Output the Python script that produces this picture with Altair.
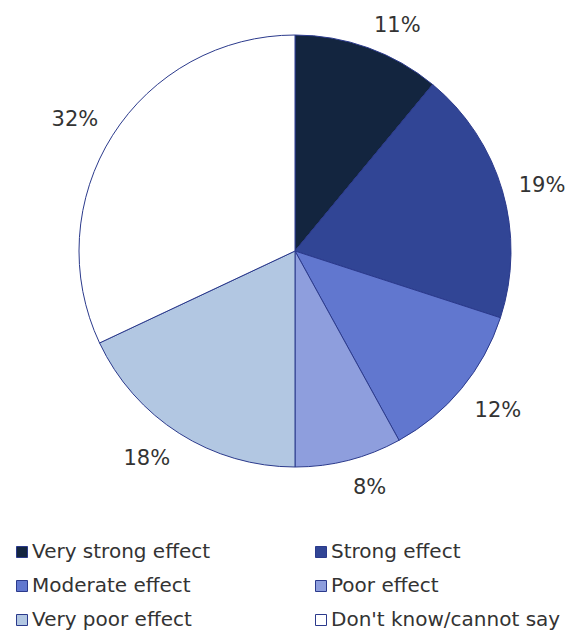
import math
import altair as alt
import pandas as pd

categories = ["Very strong effect", "Strong effect", "Moderate effect",
              "Poor effect", "Very poor effect", "Don't know/cannot say"]
values = [11, 19, 12, 8, 18, 32]
colors = ["#13253F", "#314595", "#6177CF", "#8E9EDD", "#B2C7E2", "#FFFFFF"]

df = pd.DataFrame({
    "category": categories,
    "value": values,
    "order": list(range(len(categories))),
    "label": [f"{v}%" for v in values],
})

FONT = "DejaVu Sans"
CX, CY = 287, 243
TOTAL = sum(values)

pie = alt.Chart(df).mark_arc(outerRadius=216, stroke="#2B3A8C", strokeWidth=1).encode(
    theta=alt.Theta("value:Q", stack=True),
    order=alt.Order("order:Q", sort="ascending"),
    x=alt.value(CX), y=alt.value(CY),
    color=alt.Color(
        "category:N",
        scale=alt.Scale(domain=categories, range=colors),
        sort=categories,
        legend=alt.Legend(
            title=None, orient="none", legendX=4, legendY=534,
            direction="horizontal", columns=2, columnPadding=100, rowPadding=14,
            symbolType="square", symbolSize=121, symbolStrokeColor="#2B3A8C",
            symbolStrokeWidth=1, symbolOpacity=1, labelFont=FONT, labelFontSize=20,
            labelColor="#333333", labelOffset=0, labelLimit=400,
        ),
    ),
)

label_base = (
    alt.Chart(df)
    .transform_window(cum="sum(value)", sort=[{"field": "order"}], frame=[None, 0])
    .transform_calculate(mid="datum.cum - datum.value / 2")
    .transform_calculate(ang=f"datum.mid / {TOTAL} * 2 * PI")
    .transform_calculate(sx="sin(datum.ang)", cy="cos(datum.ang)")
)

placements = [
    ("datum.sx >= 0 && datum.cy > 0.5", "left", "alphabetic"),
    ("datum.sx >= 0 && abs(datum.cy) <= 0.5", "left", "middle"),
    ("datum.sx >= 0 && datum.cy < -0.5", "left", "top"),
    ("datum.sx < 0 && datum.cy < -0.5", "right", "top"),
    ("datum.sx < 0 && abs(datum.cy) <= 0.5", "right", "middle"),
    ("datum.sx < 0 && datum.cy > 0.5", "right", "alphabetic"),
]

label_layers = []
for cond, al, bl in placements:
    label_layers.append(
        label_base.transform_filter(cond)
        .mark_text(radius=233, font=FONT, fontSize=21, color="#333333", align=al, baseline=bl)
        .encode(
            theta=alt.Theta("mid:Q", scale=alt.Scale(domain=[0, TOTAL], range=[0, 2 * math.pi])),
            x=alt.value(CX), y=alt.value(CY),
            text="label:N",
        )
    )

chart = (
    alt.layer(pie, *label_layers)
    .resolve_scale(theta="independent")
    .properties(width=560, height=624, padding=0, autosize=alt.AutoSizeParams(type="none"))
    .configure_view(stroke=None)
)

chart.save("out.html", embed_options={"renderer": "svg", "actions": False})
